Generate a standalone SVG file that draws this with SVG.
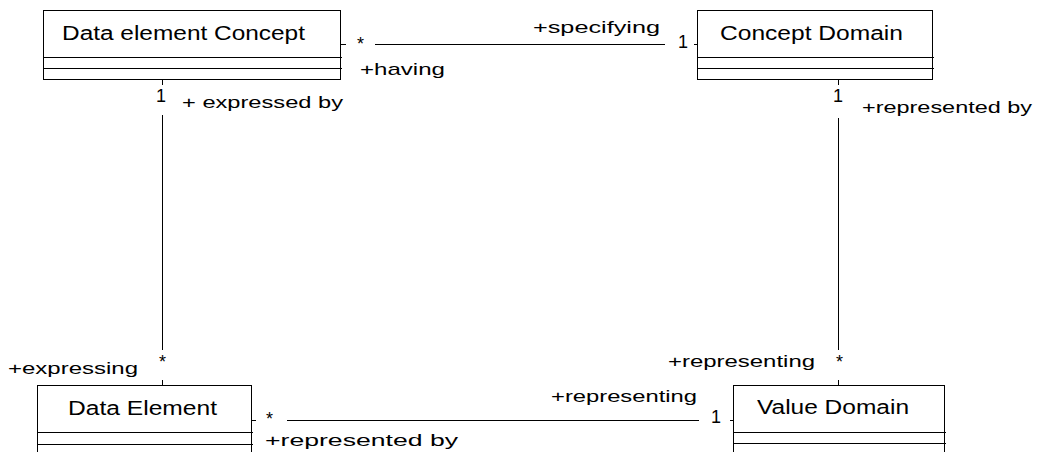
<svg xmlns="http://www.w3.org/2000/svg" width="1047" height="452" viewBox="0 0 1047 452">
  <style>
    .box { fill: #ffffff; stroke: #000000; stroke-width: 1; }
    .sep { stroke: #000000; stroke-width: 1; }
    .assoc { stroke: #000000; stroke-width: 1; fill: none; }
    .cls { font-family: "Liberation Sans", Arial, sans-serif; font-size: 20px; fill: #000000; }
    .lbl { font-family: "Liberation Sans", Arial, sans-serif; font-size: 17px; fill: #000000; }
    .mult { font-family: "Liberation Sans", Arial, sans-serif; font-size: 18px; fill: #000000; }
  </style>
  <rect width="1047" height="452" fill="#ffffff"/>

  <!-- associations -->
  <g id="connectors">
    <!-- Data element Concept (*) to Concept Domain (1) -->
    <path class="assoc" d="M340 44.5H346 M375 44.5H665 M694 44.5H697"/>
    <!-- Data element Concept (1) to Data Element (*) -->
    <path class="assoc" d="M162.5 79V85 M162.5 115V350 M162.5 380V385"/>
    <!-- Concept Domain (1) to Value Domain (*) -->
    <path class="assoc" d="M838.5 79V85 M838.5 118V350 M838.5 380V385"/>
    <!-- Data Element (*) to Value Domain (1) -->
    <path class="assoc" d="M251 420.5H256 M287 420.5H699 M730 420.5H733"/>

    <text class="mult" x="357" y="50">*</text>
    <text class="lbl" x="533" y="33" textLength="127" lengthAdjust="spacingAndGlyphs">+specifying</text>
    <text class="mult" x="678" y="48">1</text>
    <text class="lbl" x="360" y="75" textLength="85" lengthAdjust="spacingAndGlyphs">+having</text>

    <text class="mult" x="156" y="102">1</text>
    <text class="lbl" x="182" y="108" textLength="161" lengthAdjust="spacingAndGlyphs">+ expressed by</text>
    <text class="lbl" x="8" y="374" textLength="130" lengthAdjust="spacingAndGlyphs">+expressing</text>
    <text class="mult" x="159" y="368">*</text>

    <text class="mult" x="833" y="102">1</text>
    <text class="lbl" x="862" y="113" textLength="170" lengthAdjust="spacingAndGlyphs">+represented by</text>
    <text class="lbl" x="668" y="367" textLength="147" lengthAdjust="spacingAndGlyphs">+representing</text>
    <text class="mult" x="836" y="368">*</text>

    <text class="mult" x="266" y="425">*</text>
    <text class="lbl" x="265" y="446" textLength="193" lengthAdjust="spacingAndGlyphs">+represented by</text>
    <text class="lbl" x="551" y="402" textLength="146" lengthAdjust="spacingAndGlyphs">+representing</text>
    <text class="mult" x="711" y="423">1</text>
  </g>

  <!-- classes -->
  <g id="data-element-concept">
    <rect class="box" x="43.5" y="10.5" width="297" height="69"/>
    <path class="sep" d="M43.5 57.5H342 M43.5 68.5H342"/>
    <text class="cls" x="62" y="40" textLength="243" lengthAdjust="spacingAndGlyphs">Data element Concept</text>
  </g>

  <g id="concept-domain">
    <rect class="box" x="697.5" y="10.5" width="235" height="69"/>
    <path class="sep" d="M697.5 57.5H934 M697.5 68.5H934"/>
    <text class="cls" x="720" y="40" textLength="183" lengthAdjust="spacingAndGlyphs">Concept Domain</text>
  </g>

  <g id="data-element">
    <rect class="box" x="37.5" y="385.5" width="214" height="80"/>
    <path class="sep" d="M37.5 432.5H253 M37.5 444.5H253"/>
    <text class="cls" x="68" y="415" textLength="149" lengthAdjust="spacingAndGlyphs">Data Element</text>
  </g>

  <g id="value-domain">
    <rect class="box" x="733.5" y="385.5" width="211" height="80"/>
    <path class="sep" d="M733.5 432.5H946 M733.5 443.5H946"/>
    <text class="cls" x="757" y="414" textLength="152" lengthAdjust="spacingAndGlyphs">Value Domain</text>
  </g>
</svg>
